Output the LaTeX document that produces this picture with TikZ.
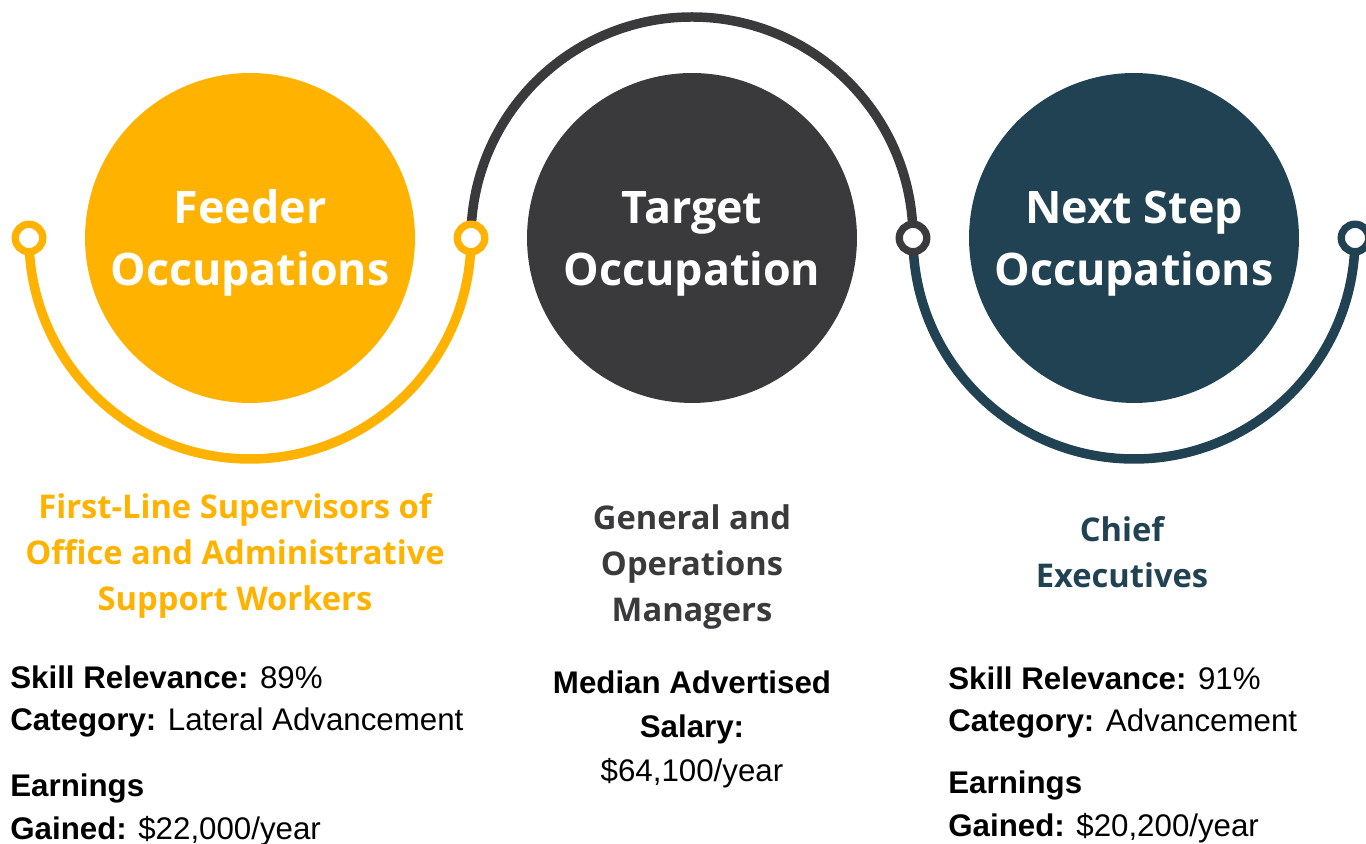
\documentclass[tikz,border=0pt]{standalone}
\usepackage{fontspec}
\setmainfont{Liberation Sans}
\newfontfamily\headfont{Open Sans}
\usetikzlibrary{backgrounds}
\definecolor{feeder}{HTML}{FFB300}
\definecolor{target}{HTML}{3A3A3C}
\definecolor{nextstep}{HTML}{214252}
\newcommand{\discstrut}{\rule{0pt}{25pt}}
\tikzset{
	bigdisc/.style={circle, fill=#1, minimum size=6.6cm, inner sep=0pt, text=white, align=center, font=\headfont\bfseries\fontsize{25.5}{35.5}\selectfont},
	ring/.style={circle, draw=#1, fill=white, line width=4.2pt, minimum size=0.55cm, inner sep=0pt},
	track/.style={draw=#1, line width=5.4pt},
	jobtitle/.style={text=#1, align=center, font=\headfont\bfseries\fontsize{18.6}{26}\selectfont},
	facts/.style={align=left, inner sep=0pt, font=\fontsize{17.8}{24.4}\selectfont}
}
\begin{document}
\begin{tikzpicture}[x=0.02cm, y=0.02cm]
	\useasboundingbox (0,0) rectangle (1366,844);
	
	\node[bigdisc=feeder] (feeder) at (250,606) {\discstrut Feeder\\Occupations};
	\node[bigdisc=target] (target) at (692,606) {\discstrut Target\\Occupation};
	\node[bigdisc=nextstep] (nextstep) at (1134,606) {\discstrut Next Step\\Occupations};
	
	\node[ring=feeder] (r1) at (29,606) {};
	\node[ring=feeder] (r2) at (471,606) {};
	\node[ring=target] (r3) at (913,606) {};
	\node[ring=nextstep] (r4) at (1355,606) {};
	
	\begin{pgfonlayer}{background}
		\draw[track=feeder] (r1.center) arc[start angle=180, end angle=360, radius=221];
		\draw[track=target] (r2.center) arc[start angle=180, end angle=0, radius=221];
		\draw[track=nextstep] (r3.center) arc[start angle=180, end angle=360, radius=221];
	\end{pgfonlayer}
	
	\node[jobtitle=feeder] (feedjob) at (235,288) {First-Line Supervisors of\\Office and Administrative\\Support Workers};
	\node[jobtitle=target] (targjob) at (692,277) {General and\\Operations\\Managers};
	\node[jobtitle=nextstep] (nextjob) at (1122,292) {Chief\\Executives};
	
	\node[facts, anchor=north west] (feedfacts) at (10,179) {\textbf{Skill Relevance:} 89\%\\\textbf{Category:} Lateral Advancement\\[13pt]\textbf{Earnings}\\\textbf{Gained:} \$22,000/year};
	\node[facts, align=center, anchor=north, font=\fontsize{17.8}{25.2}\selectfont] (targfacts) at (692,174) {\textbf{Median Advertised}\\\textbf{Salary:}\\\$64,100/year};
	\node[facts, anchor=north west] (nextfacts) at (948,178) {\textbf{Skill Relevance:} 91\%\\\textbf{Category:} Advancement\\[10.5pt]\textbf{Earnings}\\\textbf{Gained:} \$20,200/year};
\end{tikzpicture}
\end{document}
